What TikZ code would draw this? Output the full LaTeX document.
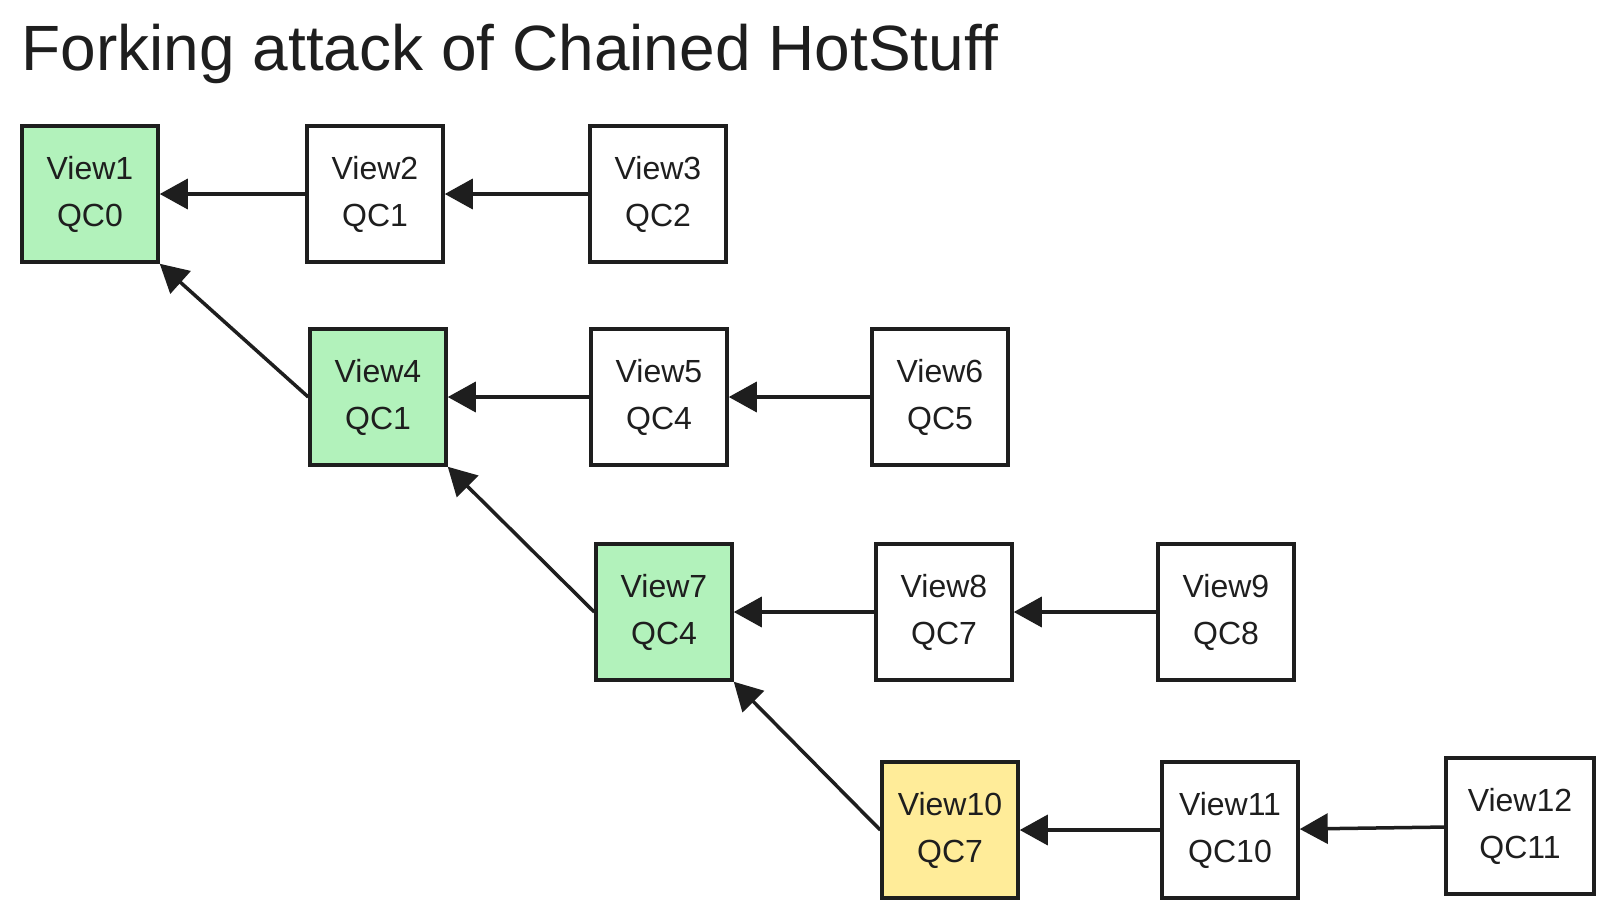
\documentclass[tikz,border=0pt]{standalone}
\usepackage{fontspec}
\setmainfont{Liberation Sans}
\usetikzlibrary{arrows.meta}
\definecolor{blockgreen}{HTML}{B2F2BB}
\definecolor{blockyellow}{HTML}{FFEC99}
\definecolor{ink}{HTML}{1E1E1E}

\begin{document}
\begin{tikzpicture}[x=1pt,y=-1pt]
\useasboundingbox (0,0) rectangle (1614,916);
\node[anchor=base west,text=ink,font=\fontsize{64}{76}\selectfont] (title) at (18,70) {Forking attack of Chained HotStuff};

\begin{scope}[every node/.style={rectangle,draw=ink,line width=3.5pt,minimum width=136pt,minimum height=136pt,align=center,text=ink,font=\fontsize{32}{47}\selectfont}]
    \node[fill=blockgreen] (v1) at (90,194) {View1\\QC0};
    \node (v2) at (375,194) {View2\\QC1};
    \node (v3) at (658,194) {View3\\QC2};
    \node[fill=blockgreen] (v4) at (378,397) {View4\\QC1};
    \node (v5) at (659,397) {View5\\QC4};
    \node (v6) at (940,397) {View6\\QC5};
    \node[fill=blockgreen] (v7) at (664,612) {View7\\QC4};
    \node (v8) at (944,612) {View8\\QC7};
    \node (v9) at (1226,612) {View9\\QC8};
    \node[fill=blockyellow] (v10) at (950,830) {View10\\QC7};
    \node (v11) at (1230,830) {View11\\QC10};
    \node[minimum width=148pt] (v12) at (1520,826) {View12\\QC11};
\end{scope}

\begin{scope}[every edge/.style={draw=ink,line width=3.5pt,-{Triangle[length=28pt,width=30pt]}}]
    \path (v2) edge (v1);
    \path (v3) edge (v2);
    \path (v4.west) edge (v1.south east);
    \path (v5) edge (v4);
    \path (v6) edge (v5);
    \path (v7.west) edge (v4.south east);
    \path (v8) edge (v7);
    \path (v9) edge (v8);
    \path (v10.west) edge (v7.south east);
    \path (v11) edge (v10);
    \path (v12) edge (v11);
\end{scope}
\end{tikzpicture}
\end{document}
